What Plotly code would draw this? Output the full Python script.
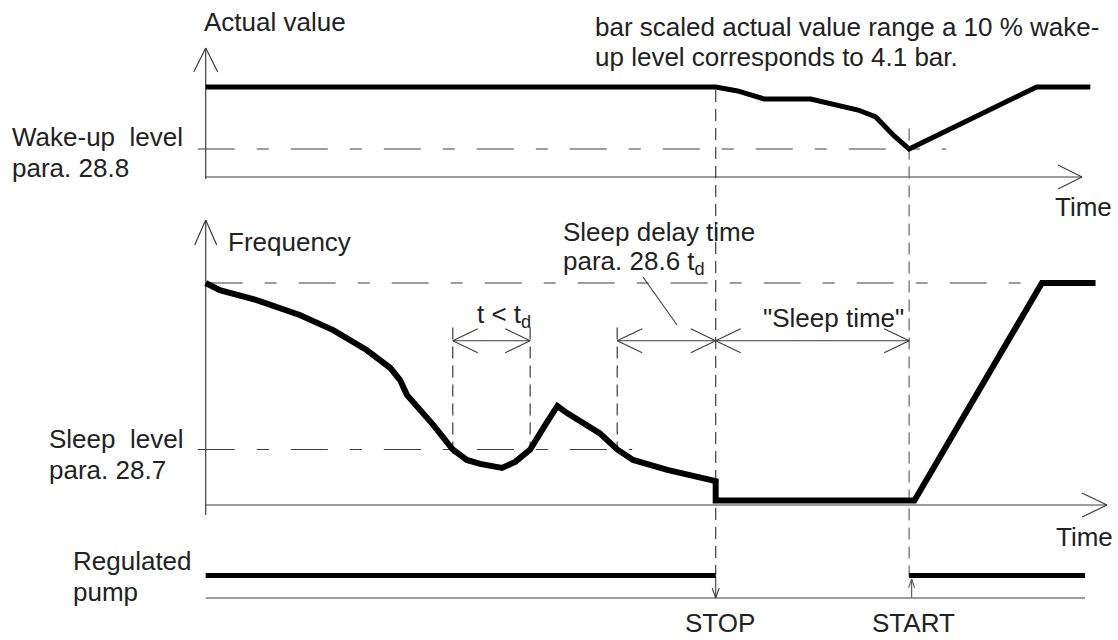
import plotly.graph_objects as go

W, H = 1118, 640

# ---- time scale of the shared x axis (pixels) ----
T_ORIGIN_PX = 205.7
PX_PER_T = 8.793

# ---- data ----
# Actual value, % of setpoint
actual_t = [0, 58.0, 60.5, 63.5, 68.8, 72.1, 74.2, 76.2, 78.3, 80.0, 94.5, 100.6]
actual_v = [100, 100, 95.6, 86.7, 86.7, 80.0, 74.4, 66.7, 45.6, 31.1, 100, 100]
wake_level = 31.1

# Output frequency, % of maximum
freq_t = [0, 1.6, 5.8, 10.7, 14.5, 18.3, 21.0, 22.1, 22.9, 24.4, 25.9, 28.1,
          29.7, 31.2, 33.7, 35.2, 36.9, 38.6, 40.0, 41.1, 44.8, 46.8, 48.6,
          52.5, 56.2, 58.0, 58.0, 80.6, 95.1, 101.2]
freq_v = [100, 96.8, 92.3, 85.6, 78.8, 69.8, 61.7, 56.3, 49.5, 42.8, 36.0, 25.0,
          20.3, 18.5, 16.7, 19.4, 25.0, 36.0, 44.6, 41.4, 32.4, 25.0, 20.3,
          15.8, 12.6, 10.8, 2.0, 2.0, 100, 100]
freq_max = 100
sleep_level = 25

# Regulated pump state (1 = running)
pump_t = [0, 58.0, None, 80.0, 100.0]
pump_v = [1, 1, None, 1, 1]

# Events on the time axis
t_below_1 = 28.1   # frequency falls below sleep level
t_above = 36.9     # frequency back above sleep level
t_below_2 = 46.8   # start of sleep delay
t_stop = 58.0
t_start = 80.0

# ---- panel geometry: (value_a, px_a, value_b, px_b, top_px, bottom_px) ----
PANELS = {
    "y": (0, 177, 100, 87, 30, 195),
    "y2": (0, 505, 100, 283, 265, 520),
    "y3": (0, 598, 1, 575.5, 555, 615),
}


def vy(panel, v):
    va, pa, vb, pb, _, _ = PANELS[panel]
    return pa + (v - va) * (pb - pa) / (vb - va)


def tx(t):
    return T_ORIGIN_PX + t * PX_PER_T


def axis_spec(panel):
    va, pa, vb, pb, ptop, pbot = PANELS[panel]
    s = (vb - va) / (pb - pa)
    val = lambda p: va + (p - pa) * s
    return dict(domain=[1 - pbot / H, 1 - ptop / H], range=[val(pbot), val(ptop)],
                visible=False, fixedrange=True)


def P(x, y):
    return x / W, 1 - y / H


INK = "#000000"
AX = "#3c3c3c"
DASH_H = "37px,22px,12px,22px"
DASH_V = "12px,7px"

fig = go.Figure()

# level lines
fig.add_trace(go.Scatter(x=[-0.9, 84.2], y=[wake_level] * 2, yaxis="y", mode="lines",
                         line=dict(color=AX, width=1.2, dash=DASH_H)))
fig.add_trace(go.Scatter(x=[0, 100.6], y=[freq_max] * 2, yaxis="y2", mode="lines",
                         line=dict(color=AX, width=1.2, dash=DASH_H)))
fig.add_trace(go.Scatter(x=[-0.9, 48.5], y=[sleep_level] * 2, yaxis="y2", mode="lines",
                         line=dict(color=AX, width=1.2, dash=DASH_H)))

# signals
fig.add_trace(go.Scatter(x=actual_t, y=actual_v, yaxis="y", mode="lines",
                         line=dict(color=INK, width=5)))
fig.add_trace(go.Scatter(x=freq_t, y=freq_v, yaxis="y2", mode="lines",
                         line=dict(color=INK, width=6)))
fig.add_trace(go.Scatter(x=pump_t, y=pump_v, yaxis="y3", mode="lines",
                         line=dict(color=INK, width=5)))

shapes = []


def seg(x0, y0, x1, y1, color=AX, width=1.2, dash=None):
    a, b = P(x0, y0)
    c, d = P(x1, y1)
    ln = dict(color=color, width=width)
    if dash:
        ln["dash"] = dash
    shapes.append(dict(type="line", xref="paper", yref="paper", x0=a, y0=b, x1=c, y1=d,
                       line=ln, layer="below"))


def head(xt, yt, dx, dy, color=AX, width=1.2):
    # open V arrow head (horizontal) with tip at (xt, yt)
    seg(xt + dx, yt - dy, xt, yt, color, width)
    seg(xt + dx, yt + dy, xt, yt, color, width)


def vhead(xt, yt, half, length, color=AX, width=1.2):
    # open V arrow head (vertical) with tip at (xt, yt)
    seg(xt - half, yt + length, xt, yt, color, width)
    seg(xt + half, yt + length, xt, yt, color, width)


x0 = tx(0)
# actual value axes
seg(x0, 48, x0, 179)
vhead(x0, 48, 12, 24)
seg(x0, vy("y", 0), 1082, vy("y", 0))
head(1082, vy("y", 0), -24, 12)
# frequency axes
seg(x0, 220, x0, 515)
vhead(x0, 220, 11, 25)
seg(x0, vy("y2", 0), 1107, vy("y2", 0))
head(1107, vy("y2", 0), -25, 12)
# pump axis
seg(x0, vy("y3", 0), tx(100), vy("y3", 0))

# vertical event markers
seg(tx(t_below_1), vy("y2", 80), tx(t_below_1), vy("y2", 21.6), dash=DASH_V)
seg(tx(t_above), vy("y2", 80), tx(t_above), vy("y2", 26), dash=DASH_V)
seg(tx(t_below_2), vy("y2", 80), tx(t_below_2), vy("y2", 24), dash=DASH_V)
seg(tx(t_stop), vy("y", 96.7), tx(t_stop), vy("y3", 1.05), dash=DASH_V)
seg(tx(t_start), vy("y", 54), tx(t_start), vy("y3", 0.95), dash=DASH_V, color="#666")

# dimension arrows
ya = vy("y2", 74)
for a, b in [(t_below_1, t_above), (t_below_2, t_stop), (t_stop, t_start)]:
    seg(tx(a), ya, tx(b), ya, width=1.1)
    head(tx(a), ya, 25, 12, width=1.1)
    head(tx(b), ya, -25, 12, width=1.1)
# leader to the sleep-delay arrow
seg(643, 277, 677, 325, width=1.1)

# STOP / START arrows on the pump axis
seg(tx(t_stop), vy("y3", 1), tx(t_stop), vy("y3", 0), width=1.1)
vhead(tx(t_stop), vy("y3", 0), 3.5, -10, width=1.1)
seg(tx(t_start) + 2.5, vy("y3", 0), tx(t_start) + 2.5, vy("y3", 0.85), width=1.1, color="#555")
vhead(tx(t_start) + 2.5, vy("y3", 0.85), 3, 9, width=1.1, color="#555")

FONT = dict(family="Liberation Sans, Arial, sans-serif", size=26, color="#222222")
annotations = []


def label(text, x, y, xanchor="left", yanchor="middle"):
    a, b = P(x, y)
    annotations.append(dict(text=text, x=a, y=b, xref="paper", yref="paper",
                            xanchor=xanchor, yanchor=yanchor, showarrow=False,
                            font=FONT, borderpad=0))


label("Actual value", 203, 22)
label("bar scaled actual value range a 10 % wake-", 594, 27)
label("up level corresponds to 4.1 bar.", 594, 57)
label("Wake-up&nbsp; level", 11, 137)
label("para. 28.8", 11, 168)
label("Time", 1054, 207)
label("Frequency", 227, 242)
label("Sleep delay time", 562, 232)
label("para. 28.6 t<sub>d</sub>", 562, 262)
label("t &lt; t<sub>d</sub>", 476, 315)
label("\"Sleep time\"", 762, 318)
label("Sleep&nbsp; level", 48, 439)
label("para. 28.7", 48, 470)
label("Time", 1055, 537)
label("Regulated", 72, 561)
label("pump", 72, 592)
label("STOP", tx(t_stop) + 4, 639, "center", "bottom")
label("START", tx(t_start) + 4, 639, "center", "bottom")

fig.update_layout(
    width=W, height=H, autosize=False,
    margin=dict(l=0, r=0, t=0, b=0, pad=0),
    paper_bgcolor="white", plot_bgcolor="white",
    showlegend=False,
    xaxis=dict(range=[-T_ORIGIN_PX / PX_PER_T, (W - T_ORIGIN_PX) / PX_PER_T],
               domain=[0, 1], visible=False, fixedrange=True),
    yaxis=axis_spec("y"),
    yaxis2=axis_spec("y2"),
    yaxis3=axis_spec("y3"),
    shapes=shapes,
    annotations=annotations,
)

fig.write_html("out.html", config={"displayModeBar": False})
